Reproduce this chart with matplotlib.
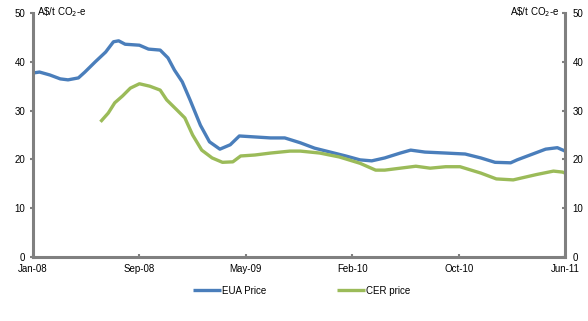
import matplotlib
matplotlib.use("Agg")
import matplotlib.pyplot as plt
import numpy as np

plt.rcParams['font.family'] = ['Liberation Sans', 'DejaVu Sans']

# x positions in months since Jan-08
eua_x = [0.0, 0.5, 1.3, 2.1, 2.7, 3.5, 4.0, 4.8, 5.6, 6.2, 6.6, 7.1, 8.2, 8.9, 9.8, 10.4, 10.9, 11.5, 12.1, 12.9, 13.6, 14.4, 15.2, 15.9, 17.1, 18.3, 19.4, 20.6, 21.7, 22.9, 24.1, 25.2, 26.1, 27.1, 28.3, 29.1, 30.2, 31.8, 33.3, 34.5, 35.6, 36.8, 37.3, 38.3, 39.5, 40.4, 41.0]
eua_y = [37.7, 37.9, 37.3, 36.5, 36.3, 36.7, 37.9, 40.0, 42.0, 44.1, 44.3, 43.6, 43.4, 42.6, 42.4, 40.8, 38.3, 35.9, 32.2, 27.0, 23.6, 22.1, 23.0, 24.8, 24.6, 24.4, 24.4, 23.4, 22.3, 21.5, 20.7, 19.9, 19.7, 20.3, 21.3, 21.9, 21.5, 21.3, 21.1, 20.3, 19.4, 19.3, 19.9, 20.9, 22.1, 22.4, 21.7]

cer_x = [5.2, 5.8, 6.3, 6.9, 7.5, 8.2, 9.0, 9.8, 10.3, 11.1, 11.7, 12.3, 13.0, 13.8, 14.6, 15.4, 16.0, 17.1, 18.3, 19.8, 20.6, 22.1, 23.6, 25.2, 26.4, 27.1, 28.3, 29.5, 30.6, 31.8, 32.9, 34.5, 35.7, 37.0, 38.8, 40.1, 40.8, 41.0]
cer_y = [27.7, 29.5, 31.6, 33.0, 34.6, 35.5, 35.0, 34.2, 32.2, 30.1, 28.5, 25.0, 21.9, 20.3, 19.4, 19.5, 20.7, 20.9, 21.3, 21.7, 21.7, 21.3, 20.5, 19.2, 17.8, 17.8, 18.2, 18.6, 18.2, 18.5, 18.5, 17.2, 16.0, 15.8, 16.9, 17.6, 17.4, 17.2]

tick_labels = ['Jan-08', 'Sep-08', 'May-09', 'Feb-10', 'Oct-10', 'Jun-11']
y_ticks = [0, 10, 20, 30, 40, 50]
unit = r'A\$/t CO$_2$-e'

blue = '#4a7ebb'
green = '#9bbb59'
grey = '#808080'

fig = plt.figure(figsize=(5.88, 3.21), dpi=100)
ax = fig.add_axes([0.0561, 0.1994, 0.905, 0.7601])

ax.plot(eua_x, eua_y, color=blue, lw=2.4, label='EUA Price', solid_capstyle='butt')
ax.plot(cer_x, cer_y, color=green, lw=2.4, label='CER price', solid_capstyle='butt')

ax.set_xlim(0, 41)
ax.set_ylim(0, 50)
ax.set_xticks(np.linspace(0, 41, len(tick_labels)))
ax.set_xticklabels(tick_labels)
ax.set_yticks(y_ticks)

for s in ['left', 'right', 'bottom']:
    ax.spines[s].set_color(grey)
    ax.spines[s].set_linewidth(2.2)
ax.spines['top'].set_visible(False)

ax.tick_params(axis='y', which='both', direction='out', length=2.5, width=1.5, color=grey,
               labelsize=7, pad=3, right=True, labelright=True)
for t in ax.yaxis.get_major_ticks():
    t.tick2line.set_marker(0)  # tick pointing left (inward) on right spine
ax.tick_params(axis='x', direction='in', length=2.5, width=1.5, color=grey, labelsize=7, pad=5)

fig.text(0.063, 0.985, unit, fontsize=7, ha='left', va='top')
fig.text(0.952, 0.985, unit, fontsize=7, ha='right', va='top')

leg = fig.legend(loc='center', bbox_to_anchor=(0.513, 0.095), ncol=2, frameon=False,
                 fontsize=7, handlelength=2.9, handletextpad=0.1, columnspacing=7.2)

fig.savefig('out.png', dpi=100)
